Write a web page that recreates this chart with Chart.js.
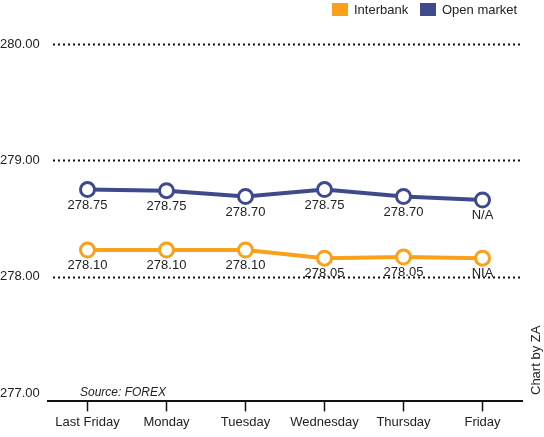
<!DOCTYPE html>
<html><head><meta charset="utf-8">
<script src="https://cdn.jsdelivr.net/npm/chart.js@4"></script>
<style>body{margin:0;background:#fff}#w{width:544px;height:437px}</style>
</head><body><div id="w"><canvas id="c"></canvas></div>
<script>
const categories=["Last Friday","Monday","Tuesday","Wednesday","Thursday","Friday"];
const openMarket=[278.75,278.74,278.69,278.75,278.69,278.66];
const interbank=[278.23,278.23,278.23,278.16,278.17,278.16];
const openLabels=["278.75","278.75","278.70","278.75","278.70","N/A"];
const interLabels=["278.10","278.10","278.10","278.05","278.05","NIA"];
const yTicks=[277,278,279,280];
const FONT="'Liberation Sans Narrow','Liberation Sans',Arial,sans-serif";
const ORANGE="#F9A11B",BLUE="#3E4A8C";
const extras={id:"extras",
 beforeDatasetsDraw(ch){const {ctx,chartArea:a,scales:{y}}=ch;ctx.save();
  ctx.strokeStyle="#111";ctx.lineWidth=2;ctx.setLineDash([2,3]);
  [278,279,280].forEach(v=>{const py=Math.round(y.getPixelForValue(v))+0.5;ctx.beginPath();ctx.moveTo(a.left+5,py);ctx.lineTo(a.right,py);ctx.stroke();});
  ctx.restore();},
 afterDatasetsDraw(ch){const {ctx}=ch;ctx.save();
  ctx.font="13px "+FONT;ctx.fillStyle="#222";ctx.textAlign="center";ctx.textBaseline="top";
  [[0,openLabels],[1,interLabels]].forEach(([i,l])=>{ch.getDatasetMeta(i).data.forEach((p,j)=>ctx.fillText(l[j],p.x,p.y+9));});
  ctx.font="italic 12px "+FONT;ctx.textAlign="left";ctx.textBaseline="bottom";ctx.fillText("Source: FOREX",80,399);
  ctx.save();ctx.translate(543,395);ctx.rotate(-Math.PI/2);ctx.font="13px "+FONT;ctx.textBaseline="bottom";ctx.fillText("Chart by ZA",0,0);ctx.restore();
  ctx.font="13px "+FONT;ctx.textBaseline="middle";
  ctx.fillStyle=ORANGE;ctx.fillRect(332,3,16,13);ctx.fillStyle="#222";ctx.fillText("Interbank",354,10);
  ctx.fillStyle=BLUE;ctx.fillRect(420,3,16,13);ctx.fillStyle="#222";ctx.fillText("Open market",442,10);
  ctx.restore();}};
new Chart(document.getElementById("c"),{type:"line",
 data:{labels:categories,datasets:[
  {label:"Open market",data:openMarket,borderColor:BLUE,backgroundColor:"#fff",borderWidth:4,pointRadius:7,pointBorderWidth:3,pointBackgroundColor:"#fff",pointBorderColor:BLUE},
  {label:"Interbank",data:interbank,borderColor:ORANGE,backgroundColor:"#fff",borderWidth:4,pointRadius:7,pointBorderWidth:3,pointBackgroundColor:"#fff",pointBorderColor:ORANGE}]},
 plugins:[extras],
 options:{responsive:true,maintainAspectRatio:false,animation:false,
  layout:{padding:{top:44,right:22,left:0,bottom:4}},
  plugins:{legend:{display:false},tooltip:{enabled:false}},
  scales:{
   x:{offset:true,grid:{drawOnChartArea:false,drawTicks:true,tickLength:10,tickColor:"#111",tickWidth:1.5},border:{color:"#111",width:2},
      ticks:{color:"#222",font:{family:FONT,size:13},padding:3,maxRotation:0,minRotation:0,autoSkip:false}},
   y:{min:276.93,max:280,afterBuildTicks(s){s.ticks=yTicks.map(v=>({value:v}));},
      afterFit(s){s.width=48;},
      grid:{display:false},border:{display:false},
      ticks:{color:"#222",font:{family:FONT,size:13},callback:v=>v.toFixed(2),padding:4,crossAlign:"far"}}}}});
</script></body></html>
